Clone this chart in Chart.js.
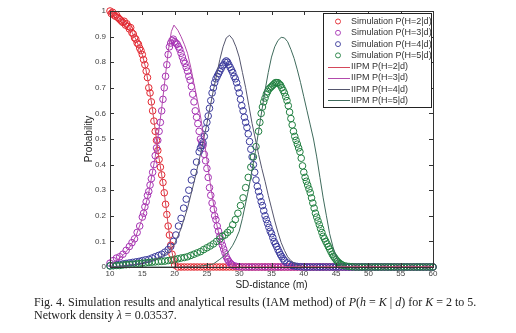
<!DOCTYPE html>
<html>
<head>
<meta charset="utf-8">
<script src="https://cdn.jsdelivr.net/npm/chart.js@4"></script>
<style>
  html, body { margin: 0; padding: 0; background: #fff; }
  #wrap { position: relative; width: 516px; height: 333px; overflow: hidden; }
  #chart { position: absolute; left: 0; top: 0; }
  #caption {
    position: absolute; left: 34px; top: 296px; width: 480px;
    font-family: "Liberation Serif", "DejaVu Serif", serif;
    font-size: 12px; line-height: 13px; color: #222;
  }
  #caption i { font-style: italic; }
</style>
</head>
<body>
<div id="wrap">
  <canvas id="chart" width="516" height="296"></canvas>
  <div id="caption">Fig. 4. Simulation results and analytical results (IAM method) of <i>P</i>(<i>h</i> = <i>K</i> | <i>d</i>) for <i>K</i> = 2 to 5.<br>Network density <i>λ</i> = 0.03537.</div>
</div>
<script>
// simulation points [SD-distance, probability]
const simH2 = [[10,1.00],[10.2,0.99],[10.4,0.995],[10.6,0.985],[10.8,0.98],[11,0.985],[11.2,0.975],[11.4,0.97],[11.6,0.965],[11.8,0.96],[12,0.955],[12.2,0.96],[12.4,0.945],[12.6,0.95],[12.8,0.94],[13,0.93],[13.2,0.935],[13.4,0.915],[13.6,0.91],[13.8,0.895],[14,0.89],[14.2,0.875],[14.4,0.87],[14.6,0.855],[14.8,0.845],[15,0.83],[15.2,0.81],[15.4,0.79],[15.6,0.765],[15.8,0.74],[16,0.70],[16.2,0.68],[16.4,0.645],[16.6,0.61],[16.8,0.57],[17,0.53],[17.2,0.495],[17.4,0.455],[17.6,0.42],[17.8,0.39],[18,0.36],[18.2,0.33],[18.4,0.29],[18.6,0.245],[18.8,0.205],[19,0.16],[19.2,0.125],[19.4,0.085],[19.6,0.05],[19.8,0.025],[20,0.008],
  [20.5,0],[21,0],[21.5,0],[22,0],[22.5,0],[23,0],[23.5,0],[24,0],[24.5,0],[25,0],[25.5,0],[26,0],[26.5,0],[27,0],[27.5,0],[28,0],[28.5,0],[29,0],[29.5,0],[30,0],[30.5,0],[31,0],[31.5,0],[32,0],[32.5,0],[33,0],[33.5,0],[34,0],[34.5,0],[35,0],[35.5,0],[36,0],[36.5,0],[37,0],[37.5,0],[38,0],[38.5,0],[39,0],[39.5,0],[40,0],[40.5,0],[41,0],[41.5,0],[42,0],[42.5,0],[43,0],[43.5,0],[44,0],[44.5,0],[45,0],[45.5,0],[46,0],[46.5,0],[47,0],[47.5,0],[48,0],[48.5,0],[49,0],[49.5,0],[50,0],[50.5,0],[51,0],[51.5,0],[52,0],[52.5,0],[53,0],[53.5,0],[54,0],[54.5,0],[55,0],[55.5,0],[56,0],[56.5,0],[57,0],[57.5,0],[58,0],[58.5,0],[59,0],[59.5,0],[60,0]];

const simH3 = [[10,0.015],[10.5,0.025],[11,0.035],[11.5,0.04],[12,0.05],[12.5,0.065],[13,0.08],[13.4,0.095],[13.8,0.11],[14.2,0.135],[14.6,0.16],[15,0.195],[15.2,0.21],[15.4,0.235],[15.6,0.255],[15.8,0.28],[16,0.295],[16.2,0.32],[16.4,0.345],[16.6,0.37],[16.8,0.40],[17,0.435],[17.2,0.465],[17.4,0.495],[17.6,0.53],[17.8,0.565],[18,0.61],[18.2,0.655],[18.4,0.70],[18.6,0.745],[18.8,0.79],[19,0.83],[19.2,0.86],[19.4,0.875],[19.6,0.885],[19.8,0.89],[20,0.88],[20.2,0.875],[20.4,0.87],[20.6,0.86],[20.8,0.85],[21,0.835],[21.2,0.82],[21.4,0.805],[21.6,0.795],[21.8,0.78],[22,0.765],[22.2,0.745],[22.4,0.73],[22.6,0.705],[22.8,0.675],[23,0.645],[23.2,0.61],[23.4,0.585],[23.6,0.56],[23.8,0.53],[24,0.50],[24.2,0.49],[24.4,0.475],[24.6,0.44],[24.8,0.415],[25,0.385],[25.2,0.35],[25.4,0.31],[25.6,0.28],[25.8,0.25],[26,0.225],[26.2,0.20],[26.4,0.185],[26.6,0.16],[26.8,0.14],[27,0.12],[27.2,0.10],[27.4,0.085],[27.6,0.07],[27.8,0.055],[28,0.04],[28.2,0.03],[28.4,0.022],[28.6,0.015],[28.8,0.01],[29,0.007],[29.5,0.003],[30,0.001],
  [30.5,0],[31,0],[31.5,0],[32,0],[32.5,0],[33,0],[33.5,0],[34,0],[34.5,0],[35,0],[35.5,0],[36,0],[36.5,0],[37,0],[37.5,0],[38,0],[38.5,0],[39,0],[39.5,0],[40,0],[40.5,0],[41,0],[41.5,0],[42,0],[42.5,0],[43,0],[43.5,0],[44,0],[44.5,0],[45,0],[45.5,0],[46,0],[46.5,0],[47,0],[47.5,0],[48,0],[48.5,0],[49,0],[49.5,0],[50,0],[50.5,0],[51,0],[51.5,0],[52,0],[52.5,0],[53,0],[53.5,0],[54,0],[54.5,0],[55,0],[55.5,0],[56,0],[56.5,0],[57,0],[57.5,0],[58,0],[58.5,0],[59,0],[59.5,0],[60,0]];

const simH4 = [[10,0.005],[10.5,0.006],[11,0.008],[11.5,0.01],[12,0.012],[12.5,0.014],[13,0.016],[13.5,0.018],[14,0.02],[14.5,0.022],[15,0.025],[15.5,0.028],[16,0.03],[16.5,0.035],[17,0.04],[17.5,0.045],[18,0.05],[18.5,0.058],[19,0.068],[19.4,0.08],[19.8,0.10],[20.2,0.125],[20.6,0.16],[21,0.19],[21.4,0.23],[21.8,0.265],[22.2,0.30],[22.6,0.34],[23,0.37],[23.4,0.41],[23.8,0.45],[24,0.465],[24.2,0.475],[24.4,0.485],[24.6,0.51],[24.8,0.54],[25,0.565],[25.2,0.59],[25.4,0.62],[25.6,0.65],[25.8,0.68],[26,0.70],[26.2,0.72],[26.4,0.735],[26.6,0.745],[26.8,0.755],[27,0.765],[27.2,0.775],[27.4,0.785],[27.6,0.79],[27.8,0.80],[28,0.805],[28.2,0.80],[28.4,0.79],[28.6,0.78],[28.8,0.77],[29,0.76],[29.2,0.745],[29.4,0.735],[29.6,0.72],[29.8,0.70],[30,0.68],[30.2,0.655],[30.4,0.63],[30.6,0.61],[30.8,0.585],[31,0.565],[31.2,0.545],[31.4,0.52],[31.6,0.49],[31.8,0.46],[32,0.43],[32.2,0.40],[32.4,0.37],[32.6,0.34],[32.8,0.315],[33,0.295],[33.2,0.275],[33.4,0.255],[33.6,0.24],[33.8,0.22],[34,0.20],[34.2,0.185],[34.4,0.17],[34.6,0.155],[34.8,0.14],[35,0.13],[35.2,0.115],[35.4,0.10],[35.6,0.09],[35.8,0.08],[36,0.068],[36.2,0.058],[36.4,0.048],[36.6,0.04],[36.8,0.032],[37,0.025],[37.4,0.016],[37.8,0.01],[38.2,0.006],[38.6,0.004],[39,0.002],[39.5,0.001],[40,0],
  [40.5,0],[41,0],[41.5,0],[42,0],[42.5,0],[43,0],[43.5,0],[44,0],[44.5,0],[45,0],[45.5,0],[46,0],[46.5,0],[47,0],[47.5,0],[48,0],[48.5,0],[49,0],[49.5,0],[50,0],[50.5,0],[51,0],[51.5,0],[52,0],[52.5,0],[53,0],[53.5,0],[54,0],[54.5,0],[55,0],[55.5,0],[56,0],[56.5,0],[57,0],[57.5,0],[58,0],[58.5,0],[59,0],[59.5,0],[60,0]];

const simH5 = [[10,0.004],[10.5,0.005],[11,0.006],[11.5,0.006],[12,0.008],[12.5,0.009],[13,0.01],[13.5,0.011],[14,0.012],[14.5,0.013],[15,0.015],[15.5,0.016],[16,0.018],[16.5,0.019],[17,0.02],[17.5,0.021],[18,0.022],[18.5,0.023],[19,0.025],[19.5,0.027],[20,0.03],[20.5,0.032],[21,0.035],[21.5,0.037],[22,0.04],[22.5,0.045],[23,0.05],[23.5,0.055],[24,0.06],[24.5,0.068],[25,0.075],[25.5,0.082],[26,0.09],[26.5,0.10],[27,0.11],[27.4,0.12],[27.8,0.125],[28.2,0.135],[28.6,0.145],[29,0.165],[29.4,0.185],[29.8,0.21],[30.2,0.24],[30.6,0.27],[31,0.31],[31.4,0.35],[31.8,0.39],[32.2,0.43],[32.6,0.47],[33,0.53],[33.2,0.565],[33.4,0.60],[33.6,0.625],[33.8,0.645],[34,0.66],[34.2,0.675],[34.4,0.685],[34.6,0.695],[34.8,0.70],[35,0.705],[35.2,0.71],[35.4,0.715],[35.6,0.72],[35.8,0.72],[36,0.72],[36.2,0.715],[36.4,0.71],[36.6,0.70],[36.8,0.69],[37,0.68],[37.2,0.665],[37.4,0.65],[37.6,0.63],[37.8,0.605],[38,0.58],[38.2,0.555],[38.4,0.53],[38.6,0.51],[38.8,0.495],[39,0.48],[39.2,0.465],[39.4,0.45],[39.6,0.425],[39.8,0.395],[40,0.37],[40.2,0.35],[40.4,0.335],[40.6,0.32],[40.8,0.305],[41,0.29],[41.2,0.27],[41.4,0.25],[41.6,0.23],[41.8,0.21],[42,0.195],[42.2,0.18],[42.4,0.165],[42.6,0.15],[42.8,0.135],[43,0.12],[43.2,0.11],[43.4,0.10],[43.6,0.09],[43.8,0.08],[44,0.07],[44.2,0.06],[44.4,0.05],[44.6,0.042],[44.8,0.035],[45,0.028],[45.2,0.022],[45.4,0.017],[45.6,0.013],[45.8,0.01],[46,0.007],[46.5,0.004],[47,0.002],[47.5,0.001],[48,0],
  [48.5,0],[49,0],[49.5,0],[50,0],[50.5,0],[51,0],[51.5,0],[52,0],[52.5,0],[53,0],[53.5,0],[54,0],[54.5,0],[55,0],[55.5,0],[56,0],[56.5,0],[57,0],[57.5,0],[58,0],[58.5,0],[59,0],[59.5,0],[60,0]];

// analytical (IIPM) curves
const iipmH2 = [[10,1],[11,0.98],[12,0.96],[13,0.935],[14,0.89],[15,0.83],[15.5,0.78],[16,0.71],[16.5,0.63],[17,0.535],[17.5,0.44],[18,0.36],[18.5,0.27],[19,0.165],[19.5,0.07],[20,0.01],[20.5,0],[60,0]];
const iipmH3 = [[10,0.01],[11,0.025],[12,0.045],[13,0.075],[14,0.12],[15,0.19],[16,0.29],[17,0.43],[17.5,0.52],[18,0.62],[18.5,0.73],[19,0.84],[19.5,0.92],[19.9,0.945],[20.5,0.925],[21,0.9],[21.5,0.87],[22,0.835],[22.5,0.78],[23,0.715],[23.5,0.655],[24,0.59],[24.5,0.51],[25,0.42],[25.5,0.33],[26,0.25],[26.5,0.17],[27,0.11],[27.5,0.06],[28,0.03],[29,0.005],[30,0],[60,0]];
const iipmH4 = [[10,0],[12,0.005],[14,0.01],[16,0.02],[18,0.04],[19,0.06],[20,0.09],[21,0.15],[22,0.23],[23,0.33],[24,0.44],[25,0.56],[26,0.69],[27,0.81],[27.5,0.86],[28,0.895],[28.5,0.905],[29,0.89],[29.5,0.86],[30,0.82],[30.5,0.76],[31,0.7],[31.5,0.63],[32,0.56],[32.5,0.5],[33,0.44],[33.5,0.385],[34,0.335],[34.5,0.28],[35,0.23],[35.5,0.18],[36,0.135],[36.5,0.095],[37,0.065],[37.5,0.04],[38,0.025],[39,0.007],[40,0],[60,0]];
const iipmH5 = [[10,0],[20,0],[24,0.003],[26,0.012],[27,0.03],[28,0.05],[28.5,0.066],[29,0.085],[29.5,0.11],[30,0.14],[30.5,0.19],[31,0.25],[31.5,0.31],[32,0.38],[32.5,0.45],[33,0.53],[33.5,0.61],[34,0.69],[34.5,0.76],[35,0.82],[35.5,0.86],[36,0.885],[36.5,0.897],[37,0.895],[37.5,0.88],[38,0.85],[38.5,0.815],[39,0.77],[39.5,0.72],[40,0.665],[40.5,0.61],[41,0.555],[41.5,0.5],[42,0.43],[42.5,0.35],[43,0.27],[43.5,0.2],[44,0.13],[44.5,0.08],[45,0.04],[45.5,0.016],[46,0.006],[47,0],[60,0]];

const xTicks = [10, 15, 20, 25, 30, 35, 40, 45, 50, 55, 60];
const yTicks = [0, 0.1, 0.2, 0.3, 0.4, 0.5, 0.6, 0.7, 0.8, 0.9, 1];

const simLabels = ["Simulation P(H=2|d)", "Simulation P(H=3|d)", "Simulation P(H=4|d)", "Simulation P(H=5|d)"];
const iipmLabels = ["IIPM P(H=2|d)", "IIPM P(H=3|d)", "IIPM P(H=4|d)", "IIPM P(H=5|d)"];
const simColors = ["#e3262e", "#a531b3", "#3b3b9c", "#1f7f3f"];
const iipmColors = ["#d4485a", "#b24aac", "#55566e", "#3f6b5c"];

const toPts = (arr) => arr.map((p) => ({ x: p[0], y: p[1] }));

const sims = [simH2, simH3, simH4, simH5];
const iipms = [iipmH2, iipmH3, iipmH4, iipmH5];

let datasets = [];
sims.forEach((s, i) => {
	datasets.push({
		label: simLabels[i],
		data: toPts(s),
		showLine: false,
		pointStyle: "circle",
		pointRadius: 3.3,
		pointBorderWidth: 1,
		pointBorderColor: simColors[i],
		pointBackgroundColor: "rgba(0,0,0,0)",
		order: 4 - i,
		clip: false,
	});
});
iipms.forEach((s, i) => {
	datasets.push({
		label: iipmLabels[i],
		data: toPts(s),
		showLine: true,
		borderColor: iipmColors[i],
		borderWidth: 1,
		pointRadius: 0,
		tension: 0,
		order: 0,
		clip: false,
	});
});

// box, inward ticks and legend, matlab style
const frame = {
	id: "frame",
	afterDraw(chart) {
		const { ctx, chartArea: a, scales } = chart;
		ctx.save();
		ctx.strokeStyle = "#333";
		ctx.lineWidth = 1;
		ctx.strokeRect(Math.round(a.left) + 0.5, Math.round(a.top) + 0.5, Math.round(a.right - a.left), Math.round(a.bottom - a.top));
		ctx.beginPath();
		xTicks.forEach((t) => {
			const px = Math.round(scales.x.getPixelForValue(t)) + 0.5;
			ctx.moveTo(px, a.bottom); ctx.lineTo(px, a.bottom - 4);
			ctx.moveTo(px, a.top); ctx.lineTo(px, a.top + 4);
		});
		yTicks.forEach((t) => {
			const py = Math.round(scales.y.getPixelForValue(t)) + 0.5;
			ctx.moveTo(a.left, py); ctx.lineTo(a.left + 4, py);
			ctx.moveTo(a.right, py); ctx.lineTo(a.right - 4, py);
		});
		ctx.stroke();

		// legend
		const lx = 323, ly = 13, lw = 108, lh = 94;
		ctx.fillStyle = "#fff";
		ctx.fillRect(lx, ly, lw, lh);
		ctx.strokeStyle = "#222";
		ctx.strokeRect(lx + 0.5, ly + 0.5, lw, lh);
		ctx.font = "9px 'Liberation Sans', Arial, sans-serif";
		ctx.textBaseline = "middle";
		simLabels.forEach((lab, i) => {
			const y = 21.5 + i * 11.3;
			ctx.beginPath();
			ctx.strokeStyle = simColors[i];
			ctx.lineWidth = 0.9;
			ctx.arc(338, y, 2.5, 0, Math.PI * 2);
			ctx.stroke();
			ctx.fillStyle = "#333";
			ctx.fillText(lab, 351, y);
		});
		iipmLabels.forEach((lab, i) => {
			const y = 66.8 + i * 11.2;
			ctx.beginPath();
			ctx.strokeStyle = iipmColors[i];
			ctx.lineWidth = 1;
			ctx.moveTo(328, Math.round(y) + 0.5);
			ctx.lineTo(350, Math.round(y) + 0.5);
			ctx.stroke();
			ctx.fillStyle = "#333";
			ctx.fillText(lab, 351, y);
		});
		ctx.restore();
	},
};

new Chart(document.getElementById("chart"), {
	type: "scatter",
	data: { datasets: datasets },
	plugins: [frame],
	options: {
		responsive: false,
		animation: false,
		devicePixelRatio: 1,
		layout: { padding: { left: 78, top: 11, right: 83, bottom: 3 } },
		plugins: {
			legend: { display: false },
			tooltip: { enabled: false },
		},
		scales: {
			x: {
				type: "linear",
				min: 10,
				max: 60,
				afterBuildTicks: (s) => { s.ticks = xTicks.map((v) => ({ value: v })); },
				afterFit: (s) => { s.height = 26; },
				grid: { display: false, drawTicks: false },
				border: { display: false },
				ticks: { padding: 2, color: "#444", font: { size: 8, family: "'Liberation Sans', Arial" }, maxRotation: 0 },
				title: { display: true, text: "SD-distance (m)", color: "#222", padding: { top: 0, bottom: 2 }, font: { size: 10, family: "'Liberation Sans', Arial" } },
			},
			y: {
				min: 0,
				max: 1,
				afterBuildTicks: (s) => { s.ticks = yTicks.map((v) => ({ value: v })); },
				afterFit: (s) => { s.width = 32; },
				grid: { display: false, drawTicks: false },
				border: { display: false },
				ticks: {
					padding: 4,
					color: "#444",
					font: { size: 8, family: "'Liberation Sans', Arial" },
					callback: (v) => (v === 0 ? "0" : v === 1 ? "1" : v.toFixed(1)),
				},
				title: { display: true, text: "Probability", color: "#222", padding: { top: 5, bottom: 0 }, font: { size: 10, family: "'Liberation Sans', Arial" } },
			},
		},
	},
});
</script>
</body>
</html>
